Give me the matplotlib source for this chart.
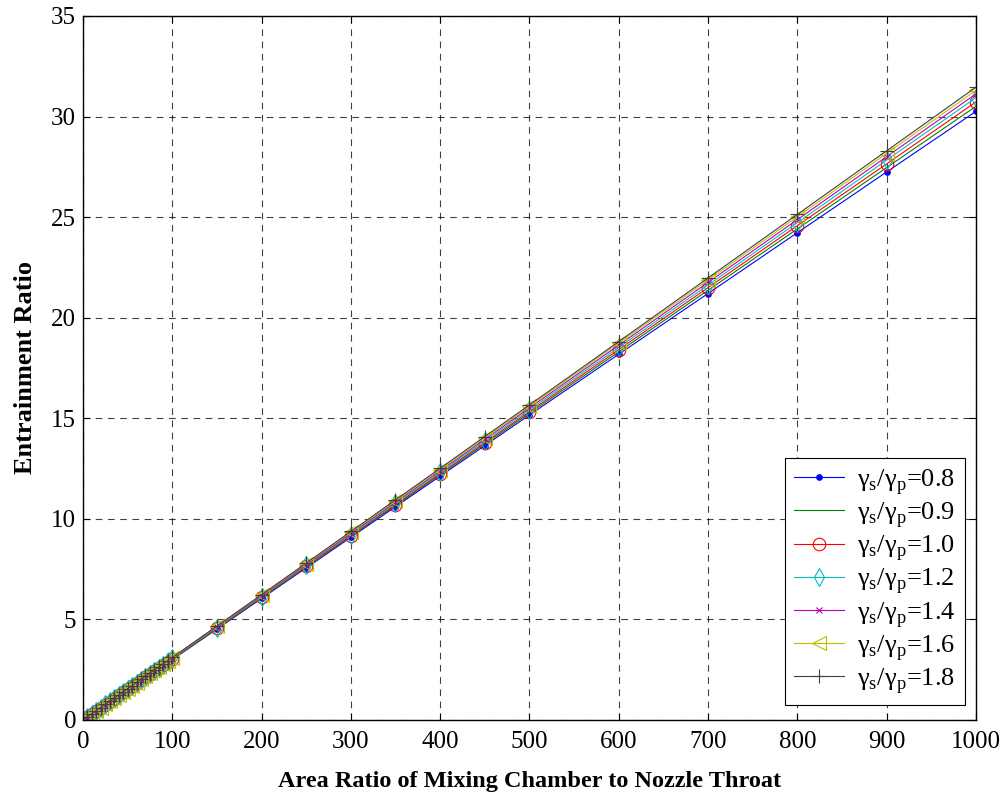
import matplotlib
matplotlib.use("Agg")
import matplotlib.pyplot as plt

plt.rcParams["font.family"] = ["Liberation Serif", "DejaVu Serif"]
plt.rcParams["mathtext.fontset"] = "custom"
plt.rcParams["mathtext.rm"] = "Liberation Serif"

# area ratio (mixing chamber / nozzle throat)
area_ratio = [0, 5, 10, 15, 20, 25, 30, 35, 40, 45, 50, 55, 60, 65, 70, 75,
              80, 85, 90, 95, 100, 150, 200, 250, 300, 350, 400, 450, 500,
              600, 700, 800, 900, 1000]

er_08 = [0, 0.15, 0.30, 0.45, 0.60, 0.75, 0.90, 1.05, 1.20, 1.35, 1.50, 1.65,
         1.80, 1.95, 2.10, 2.25, 2.40, 2.55, 2.70, 2.85, 3.00, 4.52, 6.04,
         7.56, 9.08, 10.60, 12.12, 13.64, 15.16, 18.18, 21.20, 24.22, 27.24,
         30.25]
er_09 = [0, 0.15, 0.30, 0.45, 0.60, 0.76, 0.91, 1.06, 1.21, 1.36, 1.51, 1.66,
         1.81, 1.96, 2.11, 2.27, 2.42, 2.57, 2.72, 2.87, 3.02, 4.54, 6.07,
         7.60, 9.13, 10.66, 12.19, 13.72, 15.25, 18.30, 21.36, 24.41, 27.46,
         30.50]
er_10 = [0, 0.15, 0.30, 0.46, 0.61, 0.76, 0.91, 1.06, 1.22, 1.37, 1.52, 1.67,
         1.82, 1.98, 2.13, 2.28, 2.43, 2.58, 2.74, 2.89, 3.04, 4.57, 6.10,
         7.64, 9.17, 10.71, 12.25, 13.79, 15.33, 18.41, 21.49, 24.57, 27.64,
         30.72]
er_12 = [0, 0.15, 0.31, 0.46, 0.61, 0.77, 0.92, 1.07, 1.22, 1.38, 1.53, 1.68,
         1.84, 1.99, 2.14, 2.30, 2.45, 2.60, 2.75, 2.91, 3.06, 4.59, 6.13,
         7.68, 9.22, 10.77, 12.32, 13.87, 15.42, 18.52, 21.62, 24.72, 27.83,
         30.93]
er_14 = [0, 0.15, 0.31, 0.46, 0.62, 0.77, 0.92, 1.08, 1.23, 1.39, 1.54, 1.69,
         1.85, 2.00, 2.16, 2.31, 2.46, 2.62, 2.77, 2.93, 3.08, 4.62, 6.17,
         7.72, 9.27, 10.83, 12.39, 13.95, 15.51, 18.63, 21.75, 24.87, 28.00,
         31.12]
er_16 = [0, 0.16, 0.31, 0.47, 0.62, 0.78, 0.93, 1.09, 1.24, 1.40, 1.55, 1.71,
         1.86, 2.02, 2.17, 2.33, 2.48, 2.64, 2.79, 2.95, 3.10, 4.65, 6.21,
         7.77, 9.33, 10.89, 12.45, 14.02, 15.59, 18.73, 21.87, 25.01, 28.16,
         31.30]
er_18 = [0, 0.16, 0.31, 0.47, 0.62, 0.78, 0.93, 1.09, 1.24, 1.40, 1.56, 1.71,
         1.87, 2.02, 2.18, 2.33, 2.49, 2.64, 2.80, 2.95, 3.11, 4.67, 6.23,
         7.80, 9.37, 10.94, 12.51, 14.09, 15.66, 18.81, 21.97, 25.13, 28.29,
         31.45]

ratios = ["0.8", "0.9", "1.0", "1.2", "1.4", "1.6", "1.8"]
series = [er_08, er_09, er_10, er_12, er_14, er_16, er_18]

# MATLAB 風の配色とマーカー
styles = [
    dict(color=(0, 0, 1), marker=".", ms=8),
    dict(color=(0, 0.5, 0), marker="None"),
    dict(color=(1, 0, 0), marker="o", ms=9, mfc="none"),
    dict(color=(0, 0.75, 0.75), marker="d", ms=9, mfc="none"),
    dict(color=(0.75, 0, 0.75), marker="x", ms=5),
    dict(color=(0.75, 0.75, 0), marker="<", ms=10, mfc="none"),
    dict(color=(0.25, 0.25, 0.25), marker="+", ms=10),
]

fig = plt.figure(figsize=(10.06, 7.96), dpi=100)
ax = fig.add_axes([0.0825, 0.0955, 0.8875, 0.8845])

for r, ys, st in zip(ratios, series, styles):
    ax.plot(area_ratio, ys, lw=0.8, mew=0.8,
            label=r"γ$_\mathrm{s}$/γ$_\mathrm{p}$=" + r, **st)

ax.set_xlim(0, 1000)
ax.set_ylim(0, 35)
ax.set_xticks(range(0, 1001, 100))
ax.set_yticks(range(0, 36, 5))
ax.tick_params(direction="in", labelsize=18, top=True, right=True,
               length=5, width=0.8)
ax.tick_params(axis="x", pad=8)
ax.tick_params(axis="y", pad=5)
ax.grid(True, color="black", ls=(0, (6, 5)), lw=0.8, alpha=0.75)
for sp in ax.spines.values():
    sp.set_linewidth(1.0)

ax.set_xlabel("Area Ratio of Mixing Chamber to Nozzle Throat",
              fontsize=17.5, fontweight="bold", labelpad=13)
ax.set_ylabel("Entrainment Ratio", fontsize=19, fontweight="bold",
              labelpad=10)

leg = ax.legend(loc="lower right", bbox_to_anchor=(0.988, 0.021),
                fontsize=19, handlelength=1.9, handletextpad=0.5,
                labelspacing=0.12, borderaxespad=0, borderpad=0.35,
                fancybox=False, framealpha=1, edgecolor="black")
leg.get_frame().set_linewidth(0.8)

fig.savefig("out.png", dpi=100)
